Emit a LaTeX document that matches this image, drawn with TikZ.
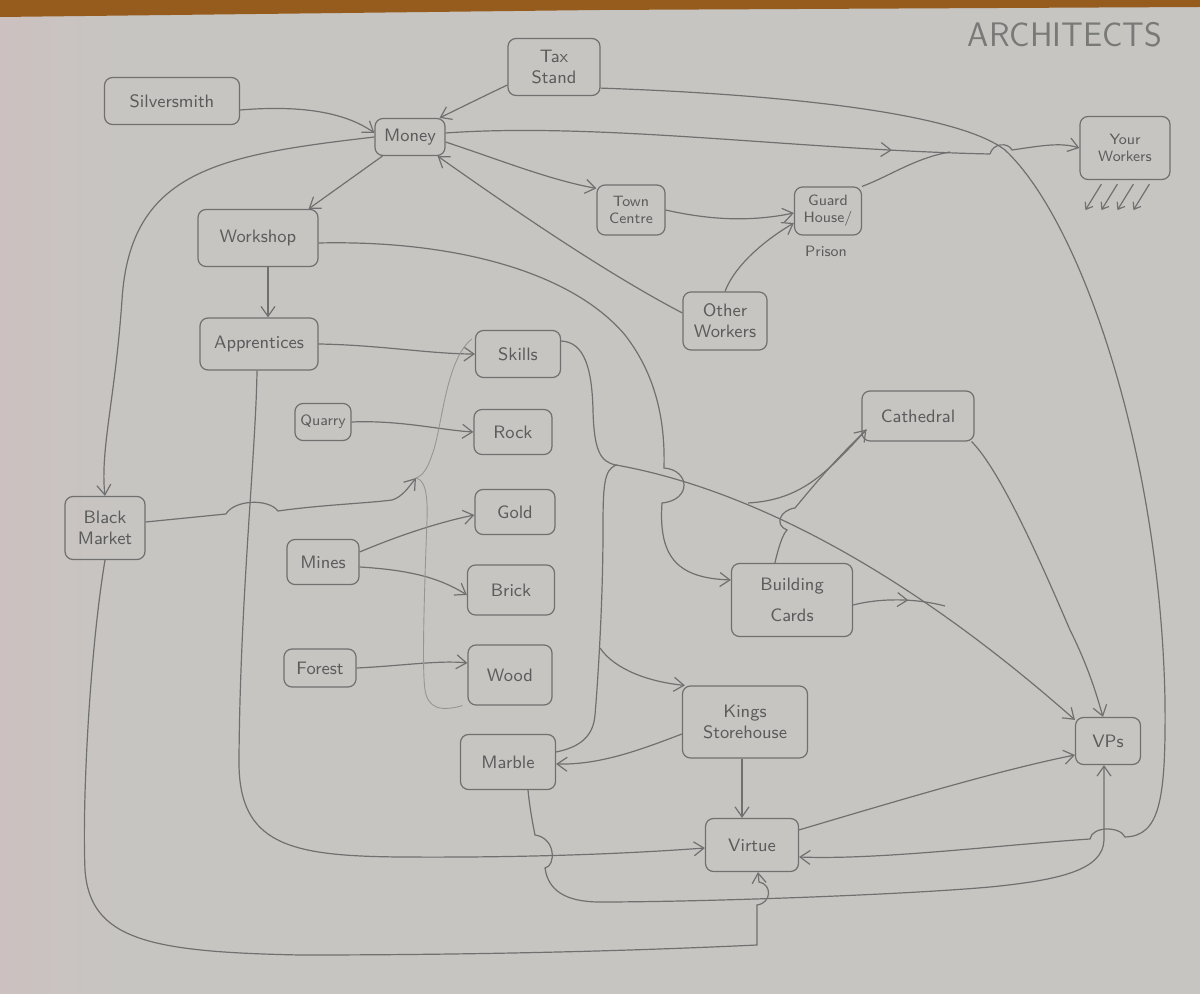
\documentclass[tikz,border=0pt]{standalone}
\usetikzlibrary{arrows.meta,decorations.markings,calc}
\definecolor{paper}{RGB}{198,197,194}
\definecolor{pinkish}{RGB}{204,193,192}
\definecolor{pencil}{RGB}{112,112,112}
\definecolor{ink}{RGB}{92,92,92}
\definecolor{woodtone}{RGB}{150,92,30}
\begin{document}
\begin{tikzpicture}[x=0.5pt,y=-0.5pt,
  bx/.style={draw=pencil, line width=0.6pt, rounded corners=4pt, text=ink,
    font=\sffamily\fontsize{9}{10.5}\selectfont, align=center, inner sep=1pt},
  smalltxt/.style={font=\sffamily\fontsize{7.5}{8.5}\selectfont},
  ln/.style={draw=pencil, line width=0.6pt},
  ar/.style={ln, -{Straight Barb[length=5pt,width=7pt]}},
  midar/.style={ln, postaction={decorate}, decoration={markings,
    mark=at position #1 with {\arrow{Straight Barb[length=5pt,width=7pt]}}}},
  faint/.style={draw=pencil!55!paper, line width=0.45pt}]
\useasboundingbox (0,0) rectangle (1200,994);
\fill[paper] (0,0) rectangle (1200,994);
\shade[left color=pinkish, right color=paper] (0,14) rectangle (130,994);
\fill[woodtone] (0,0) -- (1200,0) -- (1200,7) -- (600,10) -- (0,17) -- cycle;

% title
\node[text=pencil!90!paper, font=\sffamily\fontsize{17}{17}\selectfont] (title) at (1065,35) {ARCHITECTS};

% nodes
\node[bx,minimum width=67.5pt,minimum height=23.5pt] (silver) at (172,101) {Silversmith};
\node[bx,minimum width=46pt,minimum height=28.5pt] (tax) at (554,67) {Tax\\Stand};
\node[bx,minimum width=35pt,minimum height=18.5pt] (money) at (410,137) {Money};
\node[bx,minimum width=60pt,minimum height=28.5pt] (workshop) at (258,238) {Workshop};
\node[bx,minimum width=34pt,minimum height=25pt,smalltxt] (town) at (631,210) {Town\\Centre};
\node[bx,minimum width=33.5pt,minimum height=24pt,smalltxt] (guard) at (828,211) {Guard\\House/};
\node[text=ink,smalltxt] (prison) at (826,251) {Prison};
\node[bx,minimum width=45pt,minimum height=31.5pt,smalltxt] (your) at (1125,148) {Your\\Workers};
\node[bx,minimum width=42pt,minimum height=29pt] (other) at (725,321) {Other\\Workers};
\node[bx,minimum width=59pt,minimum height=26pt] (appr) at (259,344) {Apprentices};
\node[bx,minimum width=42.5pt,minimum height=23.5pt] (skills) at (518,354) {Skills};
\node[bx,minimum width=28pt,minimum height=18.5pt,smalltxt] (quarry) at (323,422) {Quarry};
\node[bx,minimum width=39pt,minimum height=22.5pt] (rock) at (513,432) {Rock};
\node[bx,minimum width=40pt,minimum height=31.5pt] (bm) at (105,528) {Black\\Market};
\node[bx,minimum width=40pt,minimum height=22.5pt] (gold) at (515,512) {Gold};
\node[bx,minimum width=36pt,minimum height=22.5pt] (mines) at (323,562) {Mines};
\node[bx,minimum width=43.5pt,minimum height=25pt] (brick) at (511,590) {Brick};
\node[bx,minimum width=36pt,minimum height=19pt] (forest) at (320,668) {Forest};
\node[bx,minimum width=42pt,minimum height=30pt] (wood) at (510,675) {Wood};
\node[bx,minimum width=56pt,minimum height=25pt] (cath) at (918,416) {Cathedral};
\node[bx,minimum width=60.5pt,minimum height=36.5pt] (bcards) at (792,600) {Building\\[5pt]Cards};
\node[bx,minimum width=62.5pt,minimum height=36pt] (kings) at (745,722) {Kings\\Storehouse};
\node[bx,minimum width=47.5pt,minimum height=27.5pt] (marble) at (508,762) {Marble};
\node[bx,minimum width=32.5pt,minimum height=23.5pt] (vps) at (1108,741) {VPs};
\node[bx,minimum width=46.5pt,minimum height=26.5pt] (virtue) at (752,845) {Virtue};

% helper coordinates
\coordinate (j1) at (990,154);
\coordinate (j2) at (950,152);
\coordinate (rtip) at (616,465);
\coordinate (ltip) at (416,478);
\coordinate (cb) at (748,503);
\coordinate (bj) at (945,606);
\coordinate (kb) at (600,648);

% money cluster
\draw[ar] ($(silver.east)+(0,9)$) .. controls (300,105) and (345,112) .. ($(money.west)+(0,-4)$);
\draw[ar] ($(tax.west)+(0,18)$) .. controls (480,98) and (460,108) .. ($(money.north east)+(-6,0)$);
\draw[ar] ($(money.south west)+(8,0)$) -- ($(workshop.north east)+(-10,0)$);
\draw[ar] ($(money.east)+(0,5)$) .. controls (500,160) and (550,180) .. ($(town.north west)+(0,4)$);
\draw[midar=0.82] ($(money.east)+(0,-4)$) .. controls (600,122) and (800,150) .. (j1);
\draw[ar] (j1) .. controls (993,143) and (1008,142) .. (1012,150) .. controls (1040,146) and (1060,142) .. (your.west);
\draw[ln] (guard.north east) .. controls (890,176) and (915,158) .. (j2);
\draw[ar] (town.east) .. controls (710,220) and (750,222) .. ($(guard.west)+(0,2)$);
\draw[ar] (other.north) .. controls (735,265) and (765,240) .. ($(guard.west)+(0,12)$);
\draw[ar] ($(other.west)+(0,-8)$) .. controls (600,270) and (500,200) .. ($(money.south east)+(-8,0)$);
\draw[ar] (money.west) .. controls (220,155) and (130,170) .. (122,300) .. controls (115,400) and (100,450) .. (bm.north);

% your workers legs
\foreach \i in {0,1,2,3}
  \draw[ln, -{Straight Barb[length=3pt,width=4.5pt]}] ($(your.south west)+(22+16*\i,4)$) -- ++(-16,26);

% workshop / apprentices
\draw[ar] ($(workshop.east)+(0,5)$) .. controls (450,240) and (570,270) .. (625,335) .. controls (660,380) and (665,430) .. (664,468) .. controls (690,470) and (692,500) .. (662,503) .. controls (658,560) and (680,578) .. ($(bcards.west)+(0,-20)$);
\draw[ar] ($(workshop.south)+(10,0)$) -- ($(appr.north)+(9,0)$);
\draw[ar] (appr.east) .. controls (380,345) and (430,354) .. (skills.west);
\draw[ar] ($(appr.south)+(-2,0)$) .. controls (256,450) and (240,600) .. (239,760) .. controls (238,845) and (290,856) .. (400,857) .. controls (550,858) and (650,852) .. ($(virtue.west)+(0,3)$);

% black market
\draw[ar] ($(bm.east)+(0,-6)$) -- (226,514) .. controls (234,500) and (268,498) .. (278,511) .. controls (320,505) and (370,503) .. (392,500) .. controls (402,497) and (408,488) .. (ltip);
\draw[ar] (bm.south) .. controls (90,650) and (82,800) .. (85,870) .. controls (90,940) and (150,952) .. (300,955) .. controls (500,955) and (650,950) .. (757,945) -- (757,905) .. controls (772,903) and (772,884) .. (759,882) -- ($(virtue.south)+(6,0)$);

% resources
\draw[ar] (quarry.east) .. controls (400,420) and (440,430) .. (rock.west);
\draw[ar] ($(mines.east)+(0,-10)$) .. controls (400,535) and (440,522) .. ($(gold.west)+(0,3)$);
\draw[ar] ($(mines.east)+(0,5)$) .. controls (410,570) and (440,578) .. ($(brick.west)+(0,5)$);
\draw[ar] (forest.east) .. controls (400,666) and (440,660) .. ($(wood.west)+(0,-12)$);

% braces
\draw[ln] ($(skills.east)+(0,-13)$) .. controls (585,342) and (592,370) .. (593,410) .. controls (594,450) and (600,462) .. (rtip) .. controls (604,470) and (603,485) .. (603,530) .. controls (603,600) and (598,680) .. (595,715) .. controls (593,740) and (575,748) .. ($(marble.east)+(0,-10)$);
\draw[faint] ($(skills.west)+(-3,-15)$) .. controls (445,360) and (442,430) .. (432,455) .. controls (427,470) and (422,476) .. (ltip) .. controls (424,480) and (428,490) .. (427,520) .. controls (424,600) and (422,670) .. (425,690) .. controls (428,708) and (440,712) .. ($(wood.south west)+(-5,0)$);

% right side
\draw[ar] (rtip) .. controls (700,480) and (860,530) .. ($(vps.north west)+(0,3)$);
\draw[ar] (cb) .. controls (800,500) and (825,475) .. ($(cath.south west)+(5,-12)$);
\draw[ln] ($(bcards.north west)+(44,0)$) .. controls (778,550) and (782,535) .. (787,530) .. controls (774,525) and (780,510) .. (795,508) .. controls (810,490) and (830,465) .. ($(cath.south west)+(5,-12)$);
\draw[midar=0.6] ($(bcards.east)+(0,5)$) .. controls (880,598) and (915,598) .. (bj);
\draw[ar] ($(cath.south east)+(-3,0)$) .. controls (1000,470) and (1040,560) .. (1070,630) .. controls (1090,670) and (1098,700) .. ($(vps.north)+(-5,0)$);
\draw[ar] (kb) .. controls (615,670) and (650,682) .. ($(kings.north west)+(3,0)$);
\draw[ar] ($(kings.south)+(-3,0)$) -- ($(virtue.north)+(-10,0)$);
\draw[ar] ($(kings.west)+(0,12)$) .. controls (640,750) and (600,765) .. ($(marble.east)+(0,2)$);
\draw[ar] ($(virtue.north east)+(0,12)$) .. controls (900,800) and (1000,770) .. ($(vps.west)+(0,14)$);
\draw[ar] ($(marble.south)+(20,0)$) .. controls (530,810) and (533,825) .. (535,835) .. controls (556,838) and (556,866) .. (545,868) .. controls (548,890) and (565,902) .. (600,902) .. controls (700,902) and (900,895) .. (990,887) .. controls (1060,880) and (1103,870) .. (1104,840) -- ($(vps.south)+(-4,0)$);
\draw[ar] ($(tax.south east)+(0,-8)$) .. controls (800,95) and (960,115) .. (1005,150) .. controls (1080,220) and (1160,450) .. (1165,700) .. controls (1166,800) and (1160,836) .. (1125,837) .. controls (1120,826) and (1092,826) .. (1090,839) .. controls (1000,845) and (880,860) .. ($(virtue.east)+(0,12)$);
\end{tikzpicture}
\end{document}
